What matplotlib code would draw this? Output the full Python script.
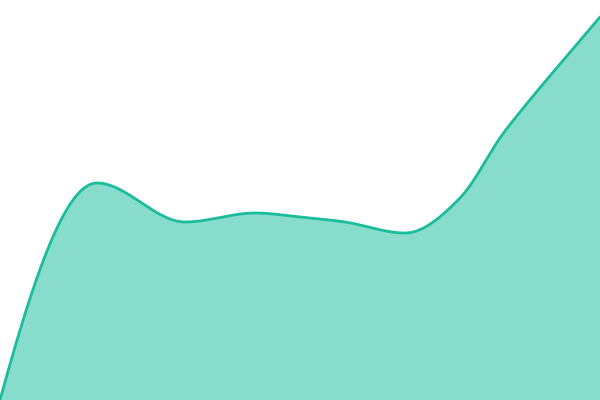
import numpy as np
import matplotlib
matplotlib.use("Agg")
import matplotlib.pyplot as plt

# 데이터
x_pos = [0, 97, 185, 255, 300, 345, 405, 460, 505, 600]
values = [0, 217, 178, 187, 183, 178, 167, 202, 269, 383]

line_color = "#1abc9c"


# 부드러운 곡선 (3차 에르미트 보간)
def smooth(x, y, xs):
    x = np.asarray(x, float)
    y = np.asarray(y, float)
    h = np.diff(x)
    d = np.diff(y) / h
    m = np.zeros_like(y)
    for k in range(1, len(x) - 1):
        if d[k - 1] * d[k] > 0:
            c = (y[k + 1] - y[k - 1]) / (x[k + 1] - x[k - 1])
            lim = 3 * min(abs(d[k - 1]), abs(d[k]))
            m[k] = np.sign(c) * min(abs(c), lim)
    m[0] = ((2 * h[0] + h[1]) * d[0] - h[0] * d[1]) / (h[0] + h[1])
    m[-1] = d[-1]
    idx = np.clip(np.searchsorted(x, xs) - 1, 0, len(x) - 2)
    t = (xs - x[idx]) / h[idx]
    h00 = 2 * t**3 - 3 * t**2 + 1
    h10 = t**3 - 2 * t**2 + t
    h01 = -2 * t**3 + 3 * t**2
    h11 = t**3 - t**2
    return h00 * y[idx] + h10 * h[idx] * m[idx] + h01 * y[idx + 1] + h11 * h[idx] * m[idx + 1]


xs = np.linspace(x_pos[0], x_pos[-1], 1200)
ys = smooth(x_pos, values, xs)

fig = plt.figure(figsize=(6, 4), dpi=100)
ax = fig.add_axes([0, 0, 1, 1])
ax.fill_between(xs, 0, ys, color=line_color, alpha=0.52, linewidth=0)
ax.plot(xs, ys, color=line_color, linewidth=2.0, solid_capstyle="round")
ax.set_xlim(0, 600)
ax.set_ylim(0, 400)
ax.axis("off")

fig.savefig("out.png", dpi=100)
